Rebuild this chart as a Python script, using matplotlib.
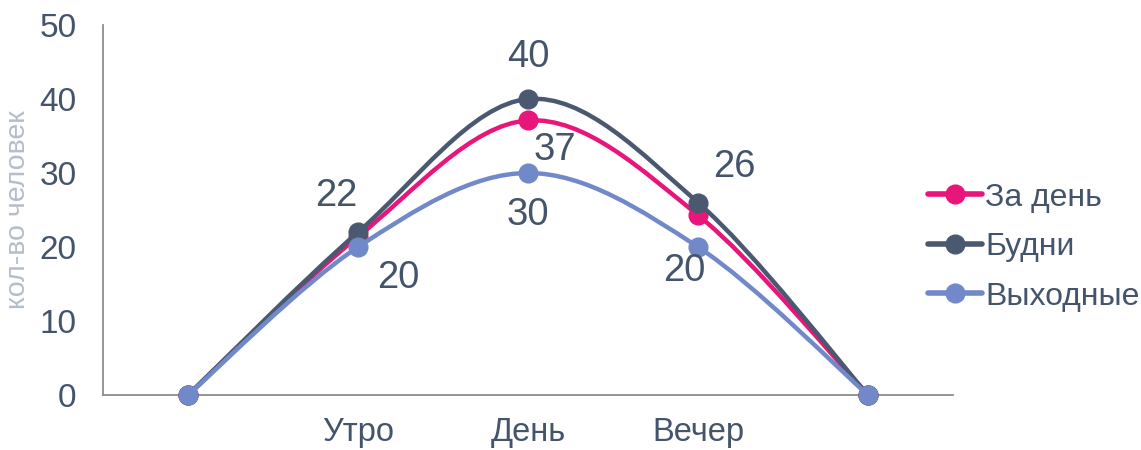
import matplotlib
matplotlib.use("Agg")
import matplotlib.pyplot as plt
from matplotlib.path import Path
from matplotlib.patches import PathPatch
from matplotlib.lines import Line2D

plt.rcParams['font.family'] = ['Liberation Sans', 'DejaVu Sans']

categories = ["", "Утро", "День", "Вечер", ""]
series_names = ["За день", "Будни", "Выходные"]
za_den = [0, 21.4, 37.1, 24.3, 0]
budni = [0, 22, 40, 26, 0]
vyhodnye = [0, 20, 30, 20, 0]
y_ticks = [0, 10, 20, 30, 40, 50]

colors = {"За день": "#E8157B", "Будни": "#4A596F", "Выходные": "#7189C9"}
values = {"За день": za_den, "Будни": budni, "Выходные": vyhodnye}

# data labels: (series, index, text, offset in points)
labels = [
    ("Будни", 1, "22", (-16, 26)),
    ("Выходные", 1, "20", (29, -22)),
    ("Будни", 2, "40", (0, 30)),
    ("За день", 2, "37", (19, -21)),
    ("Выходные", 2, "30", (0, -30)),
    ("Будни", 3, "26", (26, 26)),
    ("Выходные", 3, "20", (-10, -17)),
]

def smooth_path(xs, ys):
    pts = list(zip(xs, ys))
    n = len(pts)
    verts = [pts[0]]
    codes = [Path.MOVETO]
    for i in range(n - 1):
        p0 = pts[i - 1] if i > 0 else pts[i]
        p1 = pts[i]
        p2 = pts[i + 1]
        p3 = pts[i + 2] if i + 2 < n else pts[i + 1]
        c1 = (p1[0] + (p2[0] - p0[0]) / 6, p1[1] + (p2[1] - p0[1]) / 6)
        c2 = (p2[0] - (p3[0] - p1[0]) / 6, p2[1] - (p3[1] - p1[1]) / 6)
        verts += [c1, c2, p2]
        codes += [Path.CURVE4] * 3
    return Path(verts, codes)

fig = plt.figure(figsize=(11.41, 4.5), dpi=100)
ax = fig.add_axes([0.0903, 0.1222, 0.745, 0.8222])

x = list(range(len(categories)))
z = {"За день": 3, "Будни": 4, "Выходные": 5}
for name in series_names:
    ys = values[name]
    patch = PathPatch(smooth_path(x, ys), facecolor="none", edgecolor=colors[name],
                      lw=3.2, zorder=z[name], capstyle="round", joinstyle="round")
    ax.add_patch(patch)
    ax.plot(x, ys, linestyle="none", marker="o", ms=13.5, color=colors[name],
            zorder=z[name] + 0.5, clip_on=False)

for name, i, txt, off in labels:
    ax.annotate(txt, (x[i], values[name][i]), xytext=off, textcoords="offset points",
                ha="center", va="center", fontsize=27.5, color="#44546A", zorder=10)

ax.set_xlim(-0.5, 4.5)
ax.set_ylim(0, 50)
ax.set_yticks(y_ticks)
ax.set_xticks([1, 2, 3])
ax.set_xticklabels(categories[1:4])
ax.tick_params(axis="both", length=0, labelcolor="#44546A")
ax.tick_params(axis="y", pad=19, labelsize=24)
ax.tick_params(axis="x", pad=16, labelsize=23.5)
for s in ["top", "right"]:
    ax.spines[s].set_visible(False)
for s in ["left", "bottom"]:
    ax.spines[s].set_color("#8C8C8C")
    ax.spines[s].set_linewidth(1.3)
ax.set_ylabel("кол-во человек", fontsize=20.5, color="#B4BDCC", labelpad=6)

handles = [Line2D([0], [0], color=colors[n], lw=4, marker="o", ms=13.5, solid_capstyle="round")
           for n in series_names]
fig.legend(handles, series_names, loc="center left", bbox_to_anchor=(0.788, 0.451),
           frameon=False, fontsize=23, handlelength=1.7, handletextpad=0.1,
           labelspacing=0.61, labelcolor="#44546A")

fig.savefig("out.png", dpi=100)
